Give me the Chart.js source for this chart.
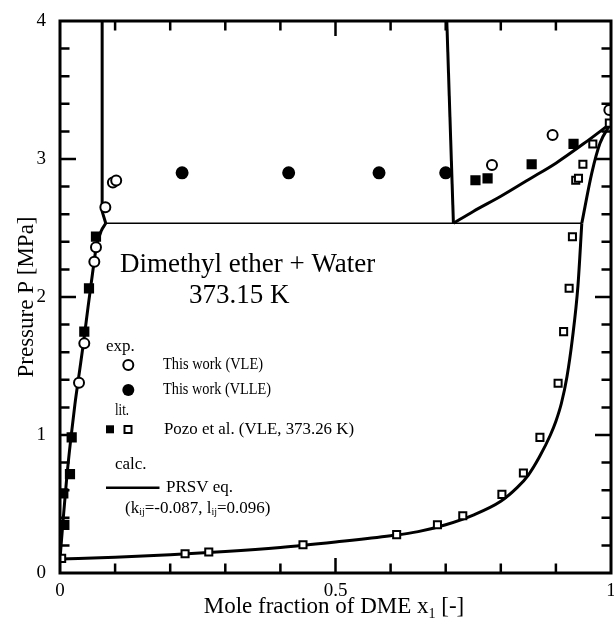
<!DOCTYPE html>
<html>
<head>
<meta charset="utf-8">
<script src="https://cdn.jsdelivr.net/npm/chart.js@4.4.0/dist/chart.umd.min.js"></script>
<style>
  body { margin: 0; background: #fff; }
  canvas { display: block; }
</style>
</head>
<body>
<canvas id="chart" width="614" height="624"></canvas>
<script>
// exp. this work (VLE), open circles
const vleX = [0.0345, 0.0441, 0.0623, 0.0653, 0.0823, 0.096, 0.102, 0.784, 0.894, 0.997]
const vleP = [1.379, 1.664, 2.256, 2.36, 2.65, 2.83, 2.845, 2.957, 3.174, 3.355]

// exp. this work (VLLE), filled circles
const vlleX = [0.2216, 0.415, 0.579, 0.700]
const vlleP = [2.90, 2.90, 2.90, 2.90]

// lit. Pozo et al., liquid (filled squares)
const pozoLiqX = [0.006, 0.0079, 0.0181, 0.0212, 0.0441, 0.0526, 0.0653, 0.754, 0.776, 0.856, 0.932]
const pozoLiqP = [0.577, 0.348, 0.717, 0.983, 1.749, 2.063, 2.437, 2.846, 2.86, 2.962, 3.109]

// lit. Pozo et al., vapour (open squares)
const pozoVapX = [0.003, 0.227, 0.270, 0.441, 0.611, 0.685, 0.731, 0.802, 0.841, 0.871, 0.904, 0.914, 0.924, 0.930, 0.936, 0.941, 0.949, 0.967, 0.997]
const pozoVapP = [0.106, 0.14, 0.152, 0.205, 0.278, 0.35, 0.415, 0.570, 0.725, 0.983, 1.375, 1.749, 2.063, 2.437, 2.846, 2.86, 2.962, 3.109, 3.26]

// calc. PRSV eq. curves
const waterLiqX = [0, 0.006, 0.012, 0.019, 0.027, 0.035, 0.043, 0.051, 0.059, 0.066, 0.075, 0.083]
const waterLiqP = [0.101, 0.40, 0.68, 0.95, 1.22, 1.45, 1.68, 1.93, 2.17, 2.365, 2.48, 2.534]

const lleLeftX = [0.083, 0.0765, 0.0765]
const lleLeftP = [2.534, 2.62, 4.0]

const lleRightX = [0.714, 0.702]
const lleRightP = [2.534, 4.0]

const threePhaseX = [0.083, 0.947]
const threePhaseP = [2.534, 2.534]

const dewX = [0, 0.10, 0.20, 0.30, 0.40, 0.50, 0.60, 0.65, 0.70, 0.75, 0.80, 0.83, 0.85, 0.87, 0.89, 0.90, 0.91, 0.92, 0.93, 0.94, 0.947]
const dewP = [0.101, 0.115, 0.132, 0.155, 0.185, 0.225, 0.27, 0.30, 0.35, 0.42, 0.52, 0.62, 0.71, 0.84, 1.0, 1.10, 1.23, 1.42, 1.70, 2.08, 2.534]

const dewUpX = [0.947, 0.965, 0.98, 1.0]
const dewUpP = [2.534, 2.896, 3.114, 3.26]

const dmeLiqX = [0.714, 0.75, 0.80, 0.85, 0.90, 0.95, 1.0]
const dmeLiqP = [2.534, 2.62, 2.73, 2.85, 2.97, 3.11, 3.26]

const xTickLabels = { 0: "0", 0.5: "0.5", 1: "1" }
const yTickLabels = { 0: "0", 1: "1", 2: "2", 3: "3", 4: "4" }

const serif = "'Liberation Serif', 'Times New Roman', serif"

function pts(xs, ys) {
    return xs.map((v, i) => ({ x: v, y: ys[i] }))
}

function curve(xs, ys, width, smooth) {
    return {
        data: pts(xs, ys),
        showLine: true,
        borderColor: "#000",
        borderWidth: width,
        borderJoinStyle: "round",
        pointRadius: 0,
        cubicInterpolationMode: smooth ? "monotone" : "default",
        tension: smooth ? 0.4 : 0,
        fill: false,
        order: 2
    }
}

function marker(xs, ys, style, radius, filled) {
    return {
        data: pts(xs, ys),
        showLine: false,
        pointStyle: style,
        pointRadius: radius,
        pointBorderWidth: 2,
        pointBorderColor: "#000",
        pointBackgroundColor: filled ? "#000" : "#fff",
        order: 1
    }
}

function lookup(table, v) {
    for (const k in table) {
        if (Math.abs(v - Number(k)) < 1e-6) return table[k]
    }
    return ""
}

// text with optional subscript runs: [[text, isSub], ...]
function runs(ctx, parts, x, y, size) {
    let cx = x
    parts.forEach(([s, sub]) => {
        ctx.font = (sub ? Math.round(size * 0.6) : size) + "px " + serif
        ctx.fillText(s, cx, sub ? y + size * 0.22 : y)
        cx += ctx.measureText(s).width
    })
    return cx
}

function runsWidth(ctx, parts, size) {
    let w = 0
    parts.forEach(([s, sub]) => {
        ctx.font = (sub ? Math.round(size * 0.6) : size) + "px " + serif
        w += ctx.measureText(s).width
    })
    return w
}

const framePlugin = {
    id: "frame",
    afterDatasetsDraw(chart) {
        const { ctx, chartArea: a, scales } = chart
        const xs = scales.x, ys = scales.y
        ctx.save()
        ctx.strokeStyle = "#000"
        ctx.lineWidth = 2.5
        ctx.beginPath()
        xs.ticks.forEach(t => {
            if (t.value <= 0.001 || t.value >= 0.999) return
            const px = xs.getPixelForValue(t.value)
            const len = lookup(xTickLabels, t.value) ? 15 : 9.5
            ctx.moveTo(px, a.bottom); ctx.lineTo(px, a.bottom - len)
            ctx.moveTo(px, a.top); ctx.lineTo(px, a.top + len)
        })
        ys.ticks.forEach(t => {
            if (t.value <= 0.001 || t.value >= 3.999) return
            const py = ys.getPixelForValue(t.value)
            const len = lookup(yTickLabels, t.value) ? 16 : 9.5
            ctx.moveTo(a.left, py); ctx.lineTo(a.left + len, py)
            ctx.moveTo(a.right, py); ctx.lineTo(a.right - len, py)
        })
        ctx.stroke()
        ctx.lineWidth = 3
        ctx.strokeRect(a.left, a.top, a.right - a.left, a.bottom - a.top)
        ctx.restore()
    },
    afterDraw(chart) {
        const ctx = chart.ctx
        ctx.save()
        ctx.fillStyle = "#000"
        ctx.strokeStyle = "#000"

        // system name and temperature
        ctx.textBaseline = "alphabetic"
        ctx.font = "27px " + serif
        ctx.fillText("Dimethyl ether + Water", 120, 272)
        ctx.fillText("373.15 K", 189, 303)

        // legend
        ctx.textBaseline = "middle"
        ctx.font = "17px " + serif
        ctx.fillText("exp.", 106, 347)
        ctx.fillText("This work (VLE)", 163, 365, 100)
        ctx.fillText("This work (VLLE)", 163, 390, 108)
        ctx.fillText("lit.", 115, 411, 14)
        ctx.fillText("Pozo et al. (VLE, 373.26 K)", 164, 429.5, 190)
        ctx.fillText("calc.", 115, 465)
        ctx.fillText("PRSV eq.", 166, 487.5)
        runs(ctx, [["(k", 0], ["ij", 1], ["=-0.087, l", 0], ["ij", 1], ["=0.096)", 0]], 125, 509, 17)

        ctx.lineWidth = 2
        ctx.beginPath()
        ctx.arc(128.3, 365, 5, 0, Math.PI * 2)
        ctx.fillStyle = "#fff"
        ctx.fill()
        ctx.stroke()
        ctx.fillStyle = "#000"
        ctx.beginPath()
        ctx.arc(128.3, 390, 6, 0, Math.PI * 2)
        ctx.fill()
        ctx.fillRect(106, 425.3, 8, 8)
        ctx.strokeRect(124.5, 426, 7, 7)
        ctx.lineWidth = 2.5
        ctx.beginPath()
        ctx.moveTo(106, 487.7)
        ctx.lineTo(159.5, 487.7)
        ctx.stroke()

        // x axis title with subscript
        ctx.textBaseline = "alphabetic"
        const xTitle = [["Mole fraction of DME x", 0], ["1", 1], [" [-]", 0]]
        const w = runsWidth(ctx, xTitle, 23)
        runs(ctx, xTitle, 334 - w / 2, 613, 23)
        ctx.restore()
    }
}

new Chart("chart", {
    type: "scatter",
    data: {
        datasets: [
            marker(vleX, vleP, "circle", 5, false),
            marker(vlleX, vlleP, "circle", 5.5, true),
            marker(pozoLiqX, pozoLiqP, "rect", 5.8, true),
            marker(pozoVapX, pozoVapP, "rect", 5, false),
            curve(waterLiqX, waterLiqP, 3, true),
            curve(lleLeftX, lleLeftP, 3, false),
            curve(lleRightX, lleRightP, 3, false),
            curve(threePhaseX, threePhaseP, 1.5, false),
            curve(dewX, dewP, 3, true),
            curve(dewUpX, dewUpP, 3, true),
            curve(dmeLiqX, dmeLiqP, 3, true)
        ]
    },
    options: {
        responsive: false,
        animation: false,
        devicePixelRatio: 1,
        layout: { autoPadding: false, padding: { top: 21, right: 3, left: 0, bottom: 0 } },
        plugins: {
            legend: { display: false },
            tooltip: { enabled: false }
        },
        scales: {
            x: {
                type: "linear",
                min: 0,
                max: 1,
                grid: { display: false },
                border: { display: false },
                ticks: {
                    stepSize: 0.1,
                    autoSkip: false,
                    maxRotation: 0,
                    padding: -1,
                    color: "#000",
                    font: { family: serif, size: 19 },
                    callback: v => lookup(xTickLabels, v)
                },
                afterFit: s => {
                    s.height = 51
                    s.paddingLeft = 0
                    s.paddingRight = 0
                }
            },
            y: {
                type: "linear",
                min: 0,
                max: 4,
                grid: { display: false },
                border: { display: false },
                title: {
                    display: true,
                    text: "Pressure P [MPa]",
                    color: "#000",
                    font: { family: serif, size: 23 },
                    padding: { top: 13, bottom: 0 }
                },
                ticks: {
                    stepSize: 0.2,
                    autoSkip: false,
                    padding: 6,
                    color: "#000",
                    font: { family: serif, size: 19 },
                    callback: v => lookup(yTickLabels, v)
                },
                afterFit: s => { s.width = 60 }
            }
        }
    },
    plugins: [framePlugin]
})
</script>
</body>
</html>
